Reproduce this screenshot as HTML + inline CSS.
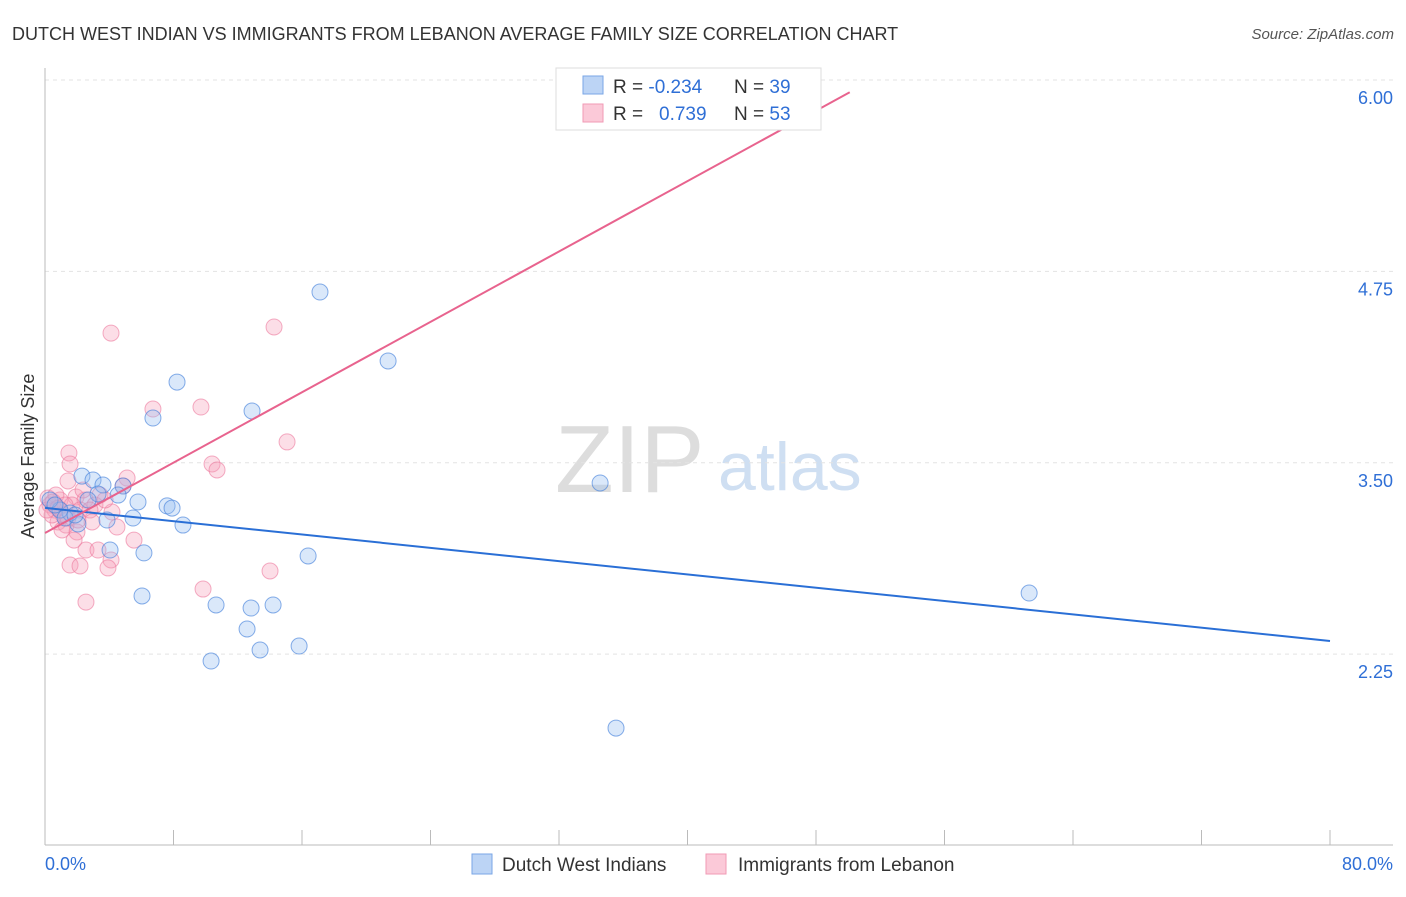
<!DOCTYPE html>
<html><head><meta charset="utf-8"><style>
body{margin:0;background:#fff;font-family:"Liberation Sans",sans-serif}
svg text{font-family:"Liberation Sans",sans-serif}
</style></head><body>
<svg id="c" width="1406" height="892" xmlns="http://www.w3.org/2000/svg">
<text x="12" y="40" font-size="18" fill="#333">DUTCH WEST INDIAN VS IMMIGRANTS FROM LEBANON AVERAGE FAMILY SIZE CORRELATION CHART</text>
<text x="1394" y="39" font-size="15" fill="#555" font-style="italic" text-anchor="end">Source: ZipAtlas.com</text>
<text x="555" y="492" font-size="96" fill="#ddd" font-family="Liberation Serif">ZIP</text>
<text x="718" y="490" font-size="68" fill="#cfdff2">atlas</text>
<text transform="translate(34,456) rotate(-90)" font-size="18" fill="#333" text-anchor="middle">Average Family Size</text>
<g id="grid"></g><g id="axes"></g><g id="pts"></g><g id="lines"></g>
<g>
<rect x="556" y="68" width="265" height="62" fill="#fff" stroke="#ddd"/>
<rect x="583" y="76" width="20" height="18" fill="#bcd4f5" stroke="#7aa6e6"/>
<rect x="583" y="104" width="20" height="18" fill="#fbc9d8" stroke="#f09ab5"/>
<text x="613" y="93" font-size="19" fill="#333">R = <tspan fill="#2f6fd6">-0.234</tspan></text>
<text x="734" y="93" font-size="19" fill="#333">N = <tspan fill="#2f6fd6">39</tspan></text>
<text x="613" y="120" font-size="19" fill="#333">R = <tspan fill="#2f6fd6" x="659">0.739</tspan></text>
<text x="734" y="120" font-size="19" fill="#333">N = <tspan fill="#2f6fd6">53</tspan></text>
</g>
<g>
<rect x="472" y="854" width="20" height="20" fill="#bcd4f5" stroke="#7aa6e6"/>
<text x="502" y="871" font-size="19" fill="#333">Dutch West Indians</text>
<rect x="706" y="854" width="20" height="20" fill="#fbc9d8" stroke="#f09ab5"/>
<text x="738" y="871" font-size="19" fill="#333">Immigrants from Lebanon</text>
</g>
</svg>
<script>
const yTicks=[6.00,4.75,3.50,2.25];
const xTickLabels=["0.0%","80.0%"];
const bluePx=[[320,292],[388,361],[177,382],[153,418],[252,411],[600,483],[82,476],[93,480],[103,485],[123,486],[98,494],[118,495],[138,502],[167,506],[172,508],[133,518],[107,520],[78,524],[183,525],[70,513],[60,510],[110,550],[144,553],[308,556],[142,596],[216,605],[251,608],[273,605],[247,629],[299,646],[260,650],[211,661],[616,728],[1029,593],[50,500],[55,505],[65,518],[75,515],[88,500]];
const pinkPx=[[752,80],[111,333],[274,327],[153,409],[201,407],[69,453],[70,464],[212,464],[217,470],[287,442],[127,478],[68,481],[123,486],[100,495],[76,497],[85,500],[60,500],[50,505],[55,510],[63,515],[72,505],[80,510],[95,505],[112,512],[117,527],[58,522],[77,532],[74,540],[86,550],[98,550],[134,540],[111,560],[108,568],[70,565],[80,566],[270,571],[203,589],[86,602],[48,498],[52,515],[56,495],[65,505],[90,510],[105,500],[66,525],[62,530],[92,522],[47,510],[53,502],[68,518],[78,520],[58,508],[83,490]];
// data values derived from the picture (x in %, y family size)
const blueX=bluePx.map(p=>+((p[0]-45)/16.06).toFixed(2));
const blueY=bluePx.map(p=>+(6-(p[1]-80)/153.1).toFixed(3));
const pinkX=pinkPx.map(p=>+((p[0]-45)/16.06).toFixed(2));
const pinkY=pinkPx.map(p=>+(6-(p[1]-80)/153.1).toFixed(3));
const blueLine=[[0,3.205],[80,2.336]];
const pinkLine=[[0,3.041],[50.1,5.92]];
const NS="http://www.w3.org/2000/svg";
const sx=v=>45+v*16.0625, sy=v=>80+(6-v)*153.1;
function mk(t,a,p){const e=document.createElementNS(NS,t);for(const k in a)e.setAttribute(k,a[k]);p.appendChild(e);return e;}
const grid=document.getElementById('grid'),axes=document.getElementById('axes');
yTicks.forEach(v=>{
 const l=mk('line',{x1:45,x2:1393,y1:sy(v),y2:sy(v),stroke:'#e3e3e3','stroke-dasharray':'4,4'},grid);
 
 
 const t=mk('text',{x:1393,y:sy(v)+24,'font-size':18,fill:'#2f6fd6','text-anchor':'end'},grid);
 t.textContent=v.toFixed(2);
 
 
});
mk('line',{x1:45,x2:45,y1:68,y2:845,stroke:'#bbb'},axes);
mk('line',{x1:45,x2:1393,y1:845,y2:845,stroke:'#bbb'},axes);
for(let i=0;i<=10;i++){const x=sx(i*8);mk('line',{x1:x,x2:x,y1:830,y2:845,stroke:'#bbb'},axes);}
const xl0=mk('text',{x:45,y:870,'font-size':18,fill:'#2f6fd6'},axes);xl0.textContent=xTickLabels[0];


const xl1=mk('text',{x:1393,y:870,'font-size':18,fill:'#2f6fd6','text-anchor':'end'},axes);xl1.textContent=xTickLabels[1];


const pts=document.getElementById('pts');
pinkX.forEach((x,i)=>{const c=mk('circle',{cx:sx(x),cy:sy(pinkY[i]),r:8,fill:'rgba(246,160,186,0.35)',stroke:'rgba(236,120,156,0.6)','stroke-width':1},pts);
 
 });
blueX.forEach((x,i)=>{const c=mk('circle',{cx:sx(x),cy:sy(blueY[i]),r:8,fill:'rgba(150,190,240,0.35)',stroke:'rgba(70,130,220,0.65)','stroke-width':1},pts);
 
 });
const lines=document.getElementById('lines');
const bl=mk('line',{x1:sx(blueLine[0][0]),y1:sy(blueLine[0][1]),x2:sx(blueLine[1][0]),y2:sy(blueLine[1][1]),stroke:'#2a6fd6','stroke-width':2},lines);


const pl=mk('line',{x1:sx(pinkLine[0][0]),y1:sy(pinkLine[0][1]),x2:sx(pinkLine[1][0]),y2:sy(pinkLine[1][1]),stroke:'#e8638e','stroke-width':2},lines);


</script>
</body></html>
